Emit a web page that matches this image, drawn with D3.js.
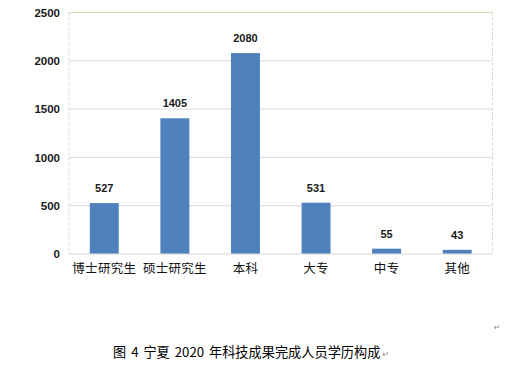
<!DOCTYPE html>
<html><head><meta charset="utf-8">
<script src="https://cdn.jsdelivr.net/npm/d3@7/dist/d3.min.js"></script>
<style>body{margin:0;background:#fff}svg{display:block}</style>
</head><body>
<svg id="c" width="526" height="369"></svg>
<script>
const categories = ["博士研究生","硕士研究生","本科","大专","中专","其他"];
const values = [527,1405,2080,531,55,43];
const yTicks = [0,500,1000,1500,2000,2500];
const caption = "图 4 宁夏 2020 年科技成果完成人员学历构成";

const svg = d3.select("#c");
const m = {l:69, r:492.5, t:12.5, b:254};
const x = d3.scaleBand().domain(categories).range([m.l, m.r]).paddingInner(0.59).paddingOuter(0.295);
const y = d3.scaleLinear().domain([0,2500]).range([m.b, m.t]);

// gridlines
svg.append("g").selectAll("line").data(yTicks.filter(d=>d>0 && d<2500)).join("line")
  .attr("x1", m.l).attr("x2", m.r).attr("y1", d=>y(d)).attr("y2", d=>y(d))
  .attr("stroke", "#d9d9d9").attr("stroke-width", 1);

// frame
svg.append("line").attr("x1", m.l).attr("x2", m.r).attr("y1", m.t).attr("y2", m.t)
  .attr("stroke", "#ddd8c0").attr("stroke-width", 1);
svg.append("line").attr("x1", m.l).attr("x2", m.l).attr("y1", m.t).attr("y2", m.b)
  .attr("stroke", "#ddd8c0").attr("stroke-dasharray", "3,2");
svg.append("line").attr("x1", m.r).attr("x2", m.r).attr("y1", m.t).attr("y2", m.b)
  .attr("stroke", "#ddd8c0").attr("stroke-dasharray", "3,2");

// bars
svg.append("g").selectAll("rect").data(values).join("rect")
  .attr("x", (d,i)=>x(categories[i])).attr("width", x.bandwidth())
  .attr("y", d=>y(d)).attr("height", d=>y(0)-y(d)).attr("fill", "#4f81bd");

// baseline
svg.append("line").attr("x1", m.l).attr("x2", m.r).attr("y1", y(0)).attr("y2", y(0))
  .attr("stroke", "#d9d9d9").attr("stroke-width", 1);

// value labels
svg.append("g").selectAll("text").data(values).join("text")
  .attr("x", (d,i)=>x(categories[i]) + x.bandwidth()/2).attr("y", d=>y(d) - 11)
  .attr("text-anchor", "middle").attr("font-family", "Liberation Sans, Arial, sans-serif")
  .attr("font-weight", "bold").attr("font-size", 11).attr("fill", "#1a1a1a").text(d=>d);

// y axis
const ya = d3.axisLeft(y).tickValues(yTicks).tickFormat(d3.format("d")).tickSize(0).tickPadding(9);
const gy = svg.append("g").attr("transform", `translate(${m.l},0)`).call(ya);
gy.select(".domain").remove();
gy.selectAll("text").attr("font-family", "Liberation Sans, Arial, sans-serif")
  .attr("font-weight", "bold").attr("font-size", 11.5).attr("fill", "#1a1a1a");

// x axis
const xa = d3.axisBottom(x).tickSize(0).tickPadding(10);
const gx = svg.append("g").attr("transform", `translate(0,${m.b})`).call(xa);
gx.select(".domain").remove();
gx.selectAll("text").attr("font-family", "Noto Sans CJK SC, sans-serif")
  .attr("font-size", 12.5).attr("fill", "#111").attr("letter-spacing", 0.3);

// caption
const cap = svg.append("text").attr("x", 113).attr("y", 357).attr("font-family", "Noto Sans CJK SC, sans-serif")
  .attr("font-size", 13.2).attr("fill", "#000").style("white-space", "pre")
  .attr("word-spacing", 2).text(caption);
const capEnd = 113 + cap.node().getComputedTextLength();
svg.append("text").attr("x", capEnd + 2).attr("y", 357).attr("font-family", "DejaVu Sans, sans-serif")
  .attr("font-size", 8).attr("fill", "#888").text("↵");
svg.append("text").attr("x", 494).attr("y", 330).attr("font-family", "DejaVu Sans, sans-serif")
  .attr("font-size", 8).attr("fill", "#888").text("↵");
</script>
</body></html>
